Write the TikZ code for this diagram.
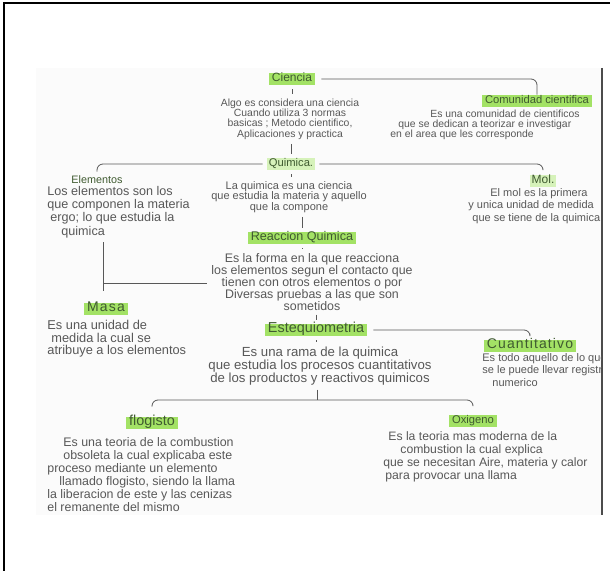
\documentclass[tikz,border=0pt]{standalone}
\usepackage{fontspec}
\setmainfont{Liberation Sans}
\definecolor{tinta}{HTML}{585858}
\definecolor{marca}{HTML}{A3E265}
\definecolor{verdoso}{HTML}{3F5A30}

\begin{document}
\begin{tikzpicture}[
  x=0.5pt,y=-0.5pt,
  every node/.style={inner sep=0pt,text=tinta},
  letra/.style 2 args={font=\fontsize{#1}{#2}\selectfont},
  titulo/.style={fill=marca,inner xsep=1.5pt,text height=0.8ex,text depth=0.35ex,text=verdoso},
  tenue/.style={fill=marca!45,inner xsep=1pt,text height=0.8ex,text depth=0.35ex,text=verdoso},
  texto/.style={align=center},
  izq/.style={align=left,anchor=west},
  linea/.style={draw=tinta,line width=0.4pt,rounded corners=3pt},
  ]
  \useasboundingbox (0,0) rectangle (610,571);
  \draw[line width=1pt,black] (3.5,571) -- (3.5,3.5) -- (610,3.5);
  \fill[black!1.5] (36,68) rectangle (602,515);
  \draw[black!70,line width=0.6pt] (602,68) -- (602,515);
  \begin{scope}
  \clip (0,0) rectangle (601,571);
  \node[titulo,letra={6}{6}] (ciencia) at (292,79) {Ciencia};
  \node[texto,letra={5.2}{5.2}] (ciencia1) at (290,119)
    {Algo es considera una ciencia\\Cuando utiliza 3 normas\\basicas ; Metodo cientifico,\\Aplicaciones y practica};
  \node[titulo,letra={5.6}{5.6}] (comunidad) at (537,101) {Comunidad cientifica};
  \node[izq,letra={5.2}{5}] (comunidad1) at (390,125)
    {\hspace*{20pt}Es una comunidad de cientificos\\\hspace*{4pt}que se dedican a teorizar e investigar\\en el area que les corresponde};
  \node[tenue,letra={5.6}{5.6}] (quimica) at (291,164) {Quimica.};
  \node[texto,letra={5.5}{5.2}] (quimica1) at (289,197)
    {La quimica es una ciencia\\que estudia la materia y aquello\\que la compone};
  \node[letra={5.4}{5.4},text=verdoso] (elementos) at (97,180) {Elementos};
  \node[izq,letra={6.3}{6.6}] (elementos1) at (47,212)
    {Los elementos son los\\que componen la materia\\\hspace*{1.5pt}ergo; lo que estudia la\\\hspace*{7pt}quimica};
  \node[tenue,letra={6}{6}] (mol) at (543,181) {Mol.};
  \node[izq,letra={5.5}{4.8}] (mol1) at (468,206)
    {\hspace*{11pt}El mol es la primera\\y unica unidad de medida\\\hspace*{2pt}que se tiene de la quimica};
  \node[titulo,letra={6.3}{6.3}] (reaccion) at (302,238) {Reaccion Quimica};
  \node[texto,letra={6.2}{5.9}] (reaccion1) at (312,282)
    {Es la forma en la que reacciona\\los elementos segun el contacto que\\tienen con otros elementos o por\\Diversas pruebas a las que son\\sometidos};
  \node[titulo,letra={7}{7}] (masa) at (106,309) {\addfontfeature{LetterSpace=8}Masa};
  \node[izq,letra={6.4}{6.3}] (masa1) at (47,339)
    {Es una unidad de\\\hspace*{2pt}medida la cual se\\atribuye a los elementos};
  \node[titulo,letra={7.2}{7.2}] (esteq) at (316,330) {Estequiometria};
  \node[texto,letra={6.6}{6.5}] (esteq1) at (320,366)
    {Es una rama de la quimica\\que estudia los procesos cuantitativos\\de los productos y reactivos quimicos};
  \node[titulo,letra={7}{7}] (cuant) at (530,346) {\addfontfeature{LetterSpace=8}Cuantitativo};
  \node[izq,letra={5.5}{5}] (cuant1) at (482,370)
    {Es todo aquello de lo que\\se le puede llevar registro\\\hspace*{5pt}numerico};
  \node[titulo,letra={7.2}{7.2}] (flogisto) at (152,423) {flogisto};
  \node[izq,letra={6.2}{6.5}] (flogisto1) at (47,475)
    {\hspace*{8pt}Es una teoria de la combustion\\\hspace*{8pt}obsoleta la cual explicaba este\\proceso mediante un elemento\\\hspace*{6pt}llamado flogisto, siendo la llama\\la liberacion de este y las cenizas\\el remanente del mismo};
  \node[titulo,letra={5.6}{5.6}] (oxigeno) at (473,421) {Oxigeno};
  \node[izq,letra={6.1}{6.5}] (oxigeno1) at (383,457)
    {\hspace*{2.5pt}Es la teoria mas moderna de la\\\hspace*{8.5pt}combustion la cual explica\\que se necesitan Aire, materia y calor\\\hspace*{1pt}para provocar una llama};
  \coordinate (esquina) at (103,283);
  \coordinate (rama) at (317,400);
  \draw[linea,shorten <=3pt] (ciencia.east) -| (comunidad.north);
  \draw[linea,shorten <=2pt,shorten >=2pt] (ciencia.south) -- (ciencia.south |- ciencia1.north);
  \draw[linea,shorten <=2pt,shorten >=2pt] (ciencia1.south -| quimica) -- (quimica.north);
  \draw[linea,shorten <=2pt,shorten >=2pt] (quimica.west) -| (elementos.north);
  \draw[linea,shorten <=2pt,shorten >=3pt] (quimica.east) -| (mol.north);
  \draw[linea,shorten <=2pt,shorten >=2pt] (quimica.south) -- (quimica.south |- quimica1.north);
  \draw[linea,shorten <=2pt,shorten >=2pt] (quimica1.south -| reaccion) -- (reaccion.north);
  \draw[linea,shorten <=2pt,shorten >=2pt] (reaccion.south) -- (reaccion.south |- reaccion1.north);
  \draw[linea,shorten <=2pt,shorten >=2pt] (reaccion1.south -| esteq) -- (esteq.north);
  \draw[linea,shorten <=2pt,shorten >=2pt] (esteq.south) -- (esteq.south |- esteq1.north);
  \draw[linea,shorten <=3pt,shorten >=3pt] (esteq.east) -| (cuant.north);
  \draw[linea,shorten <=2pt,shorten >=6pt] (elementos1.south -| esquina) -- (masa.north -| esquina);
  \draw[linea,shorten >=2pt] (esquina) -- (esquina -| reaccion1.west);
  \draw[linea,shorten <=2pt] (esteq1.south -| rama) -- (rama);
  \draw[linea,shorten <=5pt,shorten >=5pt] (flogisto.north) |- (rama) -| (oxigeno.north);
  \end{scope}
\end{tikzpicture}
\end{document}
